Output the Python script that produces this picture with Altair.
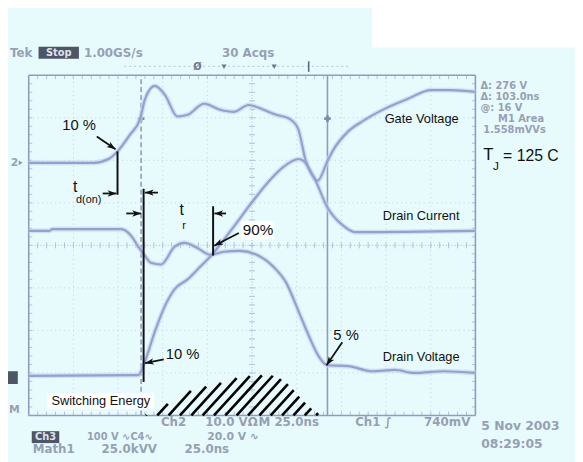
import math
import numpy as np
import pandas as pd
import altair as alt

# ---------------- values ----------------
# time in ns (25 ns / div, 10 div), level in divisions (8 div)
top_t = [0, 36.4, 44.7, 49.7, 56.8, 62.4, 65.1, 70.6, 76.2, 83.3, 88.9, 98.2, 107.1,
         114.8, 123.1, 131.4, 138.5, 145.7, 150.7, 155.1, 160.6, 167.2, 175.5, 182.7, 250]
top_v = [5.94, 5.94, 6.03, 6.21, 6.61, 6.98, 7.44, 7.75, 7.54, 7.03, 7.07, 7.33, 7.19,
         7.14, 7.30, 7.19, 7.07, 6.98, 6.75, 5.98, 5.52, 4.89, 4.48, 4.31, 4.34]

drain_t = [0, 11.6, 13.2, 51.9, 57.4, 61.3, 64.6, 68.4, 74.0, 81.7, 87.2, 94.4, 101.5,
           109.3, 118.1, 127.5, 136.9, 144.0, 151.2, 156.7, 162.3, 167.2, 178.8, 192.1,
           204.8, 215.8, 232.3, 250]
drain_v = [4.34, 4.34, 4.38, 4.38, 4.22, 3.97, 3.78, 3.59, 3.55, 3.97, 4.06, 3.94, 3.78,
           3.85, 3.87, 3.78, 3.50, 3.13, 2.43, 1.88, 1.39, 1.18, 1.16, 1.04,
           1.07, 1.00, 1.04, 1.00]

gate_t = [0, 61.3, 65.1, 70.6, 76.2, 81.7, 88.9, 96.0, 101.5, 113.7, 125.8, 134.7, 142.4,
          151.2, 154.0, 161.7, 167.2, 170.0, 178.8, 186.5, 199.2, 211.9, 225.2, 236.2, 250]
gate_v = [0.93, 0.95, 1.28, 1.97, 2.57, 2.97, 3.20, 3.50, 3.73, 4.38, 5.06, 5.52, 5.84,
          6.03, 5.98, 5.52, 5.98, 6.21, 6.68, 6.91, 7.21, 7.44, 7.65, 7.65, 7.61]

energy_t = [65.1, 75.1, 85.0, 94.4, 103.8, 116.5, 127.5, 138.5, 145.7, 153.4, 160.6, 166.1]
energy_v = [0, 0.19, 0.49, 0.63, 0.72, 0.88, 0.95, 0.93, 0.72, 0.35, 0.07, 0]

# cursors (ns)
cursor_dashed = 62.9
cursor_solid = 167.2
cursor_mark_level = 6.98

# black marker lines: x, top, bottom
mark_x = [49.7, 64.3, 103.2]
mark_top = [6.21, 5.33, 4.92]
mark_bot = [5.19, 0.79, 3.76]

# arrows: tail (x, y) -> head (x2, y2)
arrow_x = [38.1, 41.4, 72.3, 54.6, 110.4, 117.6, 75.6, 175.5]
arrow_y = [6.56, 5.22, 5.24, 4.75, 4.75, 4.29, 1.32, 1.72]
arrow_x2 = [48.6, 49.1, 65.0, 62.9, 103.9, 103.8, 65.1, 166.7]
arrow_y2 = [6.26, 5.22, 5.24, 4.75, 4.75, 3.99, 1.23, 1.18]

# annotation texts
ann_label = ["10 %", "t", "d(on)", "t", "r", "90%", "10 %", "5 %", "Gate Voltage",
             "Drain Current", "Drain Voltage", "Switching Energy", "T", "J", "= 125 C"]
ann_x = [18.8, 24.8, 26.5, 84.4, 86.0, 119.8, 76.7, 170.5, 199.2,
         198.1, 198.1, 12.7, 254.4, 259.8, 265.5]
ann_y = [6.84, 5.38, 5.06, 4.82, 4.46, 4.36, 1.44, 1.88, 6.98,
         4.68, 1.37, 0.35, 6.12, 5.86, 6.10]
ann_fs = [15, 16, 11, 16, 11, 15.5, 15, 15, 13, 13, 13, 13, 17, 12, 16]

# white label boxes (x, x2, y, y2)
box_x = [118.7, 10.5]
box_x2 = [137.4, 70.1]
box_y = [4.57, 0.53]
box_y2 = [4.13, 0.16]

# oscilloscope read-outs
scope_label = ["Tek", "1.00GS/s", "30 Acqs",
               "Δ: 276 V", "Δ: 103.0ns", "@: 16 V", "M1 Area", "1.558mVVs",
               "Ch2", "10.0 VΩ", "M 25.0ns", "Ch1 ∫", "740mV",
               "100 V ∿", "C4∿", "20.0 V ∿",
               "Math1", "25.0kVV", "25.0ns",
               "5 Nov 2003", "08:29:05", "2", "M"]
scope_x = [-10.5, 30.9, 108.2,
           252.8, 252.8, 252.8, 262.7, 254.4,
           74.0, 98.8, 128.6, 182.7, 221.3,
           32.6, 56.9, 99.9,
           2.2, 40.8, 87.2,
           253.3, 253.3, -10.0, -11.0]
scope_y = [8.53, 8.53, 8.53,
           7.75, 7.48, 7.22, 6.97, 6.71,
           -0.16, -0.16, -0.16, -0.16, -0.16,
           -0.51, -0.51, -0.51,
           -0.79, -0.79, -0.79,
           -0.26, -0.67, 5.94, 0.12]
scope_fs = [12, 12, 12,
            10, 10, 10, 10, 10,
            12, 12, 12, 12, 12,
            10, 10, 11,
            12, 12, 12,
            12.5, 12.5, 11, 11]

inv_label = ["Stop", "Ch3"]
inv_x = [5.5, 1.7]
inv_x2 = [28.1, 17.1]
inv_y = [8.67, -0.37]
inv_y2 = [8.39, -0.65]

# ---------------- layout / style ----------------
W, H = 453, 345
X_MAX, Y_MAX = 250, 8
PX_X, PX_Y = W / X_MAX, H / Y_MAX

BG = "#e7fbfc"
TRACE = "#93a1d0"
HALO = "#c9d3ee"
GRID = "#c3cce3"
FRAME = "#8f9cc0"
SCOPE = "#979fb5"
INK = "#111111"

xs = alt.Scale(domain=[0, X_MAX], nice=False, zero=False)
ys = alt.Scale(domain=[0, Y_MAX], nice=False, zero=False)


def X(f="x"):
    return alt.X(f"{f}:Q", scale=xs, axis=None)


def Y(f="y"):
    return alt.Y(f"{f}:Q", scale=ys, axis=None)


def rules(df, color, width, dash=None, opacity=1.0, cap="butt"):
    kw = dict(color=color, strokeWidth=width, opacity=opacity, strokeCap=cap)
    if dash:
        kw["strokeDash"] = dash
    return alt.Chart(df).mark_rule(**kw).encode(x=X(), x2="x2:Q", y=Y(), y2="y2:Q")


def rects(df, color):
    return alt.Chart(df).mark_rect(color=color, opacity=1).encode(
        x=X(), x2="x2:Q", y=Y(), y2="y2:Q")


def texts(df, font, color, bold=False, align="left"):
    return alt.Chart(df).mark_text(
        align=align, baseline="middle", font=font, color=color,
        fontWeight="bold" if bold else "normal"
    ).encode(x=X(), y=Y(), text="label:N",
             size=alt.Size("fs:Q", scale=None, legend=None))


layers = []

# white patch at top right of the screenshot
layers.append(rects(pd.DataFrame({"x": [192.1], "x2": [330.0], "y": [8.65], "y2": [10.5]}), "#ffffff"))

# graticule
gx = [25, 50, 75, 100, 150, 175, 200, 225]
gy = [1, 2, 3, 5, 6, 7]
grid_df = pd.DataFrame(
    [dict(x=v, x2=v, y=0, y2=Y_MAX) for v in gx] +
    [dict(x=0, x2=X_MAX, y=v, y2=v) for v in gy])
layers.append(rules(grid_df, GRID, 1, dash=[1, 3.5]))

center_df = pd.DataFrame([dict(x=125, x2=125, y=0, y2=Y_MAX), dict(x=0, x2=X_MAX, y=4, y2=4)])
layers.append(rules(center_df, "#aeb9d6", 1, dash=[1, 2]))

tick_rows = []
for t in np.arange(5, X_MAX, 5):
    tick_rows.append(dict(x=t, x2=t, y=4 - 0.07, y2=4 + 0.07))
    tick_rows.append(dict(x=t, x2=t, y=Y_MAX, y2=Y_MAX - 0.09))
    tick_rows.append(dict(x=t, x2=t, y=0, y2=0.09))
for v in np.arange(0.2, Y_MAX, 0.2):
    tick_rows.append(dict(x=125 - 1.66, x2=125 + 1.66, y=v, y2=v))
    tick_rows.append(dict(x=0, x2=2.0, y=v, y2=v))
    tick_rows.append(dict(x=X_MAX, x2=X_MAX - 2.0, y=v, y2=v))
layers.append(rules(pd.DataFrame(tick_rows), "#b4bfdb", 1))

frame_df = pd.DataFrame([
    dict(x=0, x2=X_MAX, y=0, y2=0), dict(x=0, x2=X_MAX, y=Y_MAX, y2=Y_MAX),
    dict(x=0, x2=0, y=0, y2=Y_MAX), dict(x=X_MAX, x2=X_MAX, y=0, y2=Y_MAX)])
layers.append(rules(frame_df, FRAME, 1.6))

# cursors
layers.append(rules(pd.DataFrame([dict(x=cursor_dashed, x2=cursor_dashed, y=0, y2=Y_MAX)]),
                    FRAME, 1.6, dash=[5, 3]))
layers.append(rules(pd.DataFrame([dict(x=cursor_solid, x2=cursor_solid, y=0, y2=Y_MAX)]),
                    FRAME, 1.6))
layers.append(alt.Chart(pd.DataFrame({"x": [cursor_dashed, cursor_solid],
                                      "y": [cursor_mark_level] * 2})).mark_point(
    shape="cross", filled=True, size=45, color="#7f8cb0", opacity=1).encode(x=X(), y=Y()))

# record bar / trigger markers at top
layers.append(rules(pd.DataFrame([dict(x=53.5, x2=178.8, y=8.21, y2=8.21)]), "#c3cbe0", 1.2, dash=[2, 3]))
layers.append(alt.Chart(pd.DataFrame({"x": [109.3, 137.4], "y": [8.2, 8.2]})).mark_point(
    shape="triangle-down", filled=True, size=28, color="#6f7993", opacity=1).encode(x=X(), y=Y()))
layers.append(texts(pd.DataFrame({"label": ["Ø"], "x": [94.4], "y": [8.19], "fs": [10]}),
                    "DejaVu Sans", "#6f7993", bold=True, align="center"))
layers.append(rules(pd.DataFrame([dict(x=156.7, x2=156.7, y=8.08, y2=8.33)]), "#5f6984", 1.6))

# left channel markers
layers.append(alt.Chart(pd.DataFrame({"x": [-4.5], "y": [5.94]})).mark_point(
    shape="triangle-right", filled=True, size=22, color="#8f97ad", opacity=1).encode(x=X(), y=Y()))
layers.append(rects(pd.DataFrame({"x": [-11.6], "x2": [-6.1], "y": [1.04], "y2": [0.74]}), "#4d5566"))

# hatched switching-energy region (lines cut at the energy curve)
hatch_gap = 6.35
slope_px = 1.1
k = slope_px * PX_X / PX_Y
seg = []
u = np.linspace(0.02, 40, 8000)
for x0 in np.arange(energy_t[0] + 0.5, energy_t[-1], hatch_gap):
    yl = u * k
    yc = np.interp(x0 + u, energy_t, energy_v)
    hit = np.nonzero(yl >= yc)[0]
    if len(hit) == 0:
        continue
    u1 = u[hit[0]]
    seg.append(dict(x=x0, x2=x0 + u1, y=0, y2=u1 * k))
layers.append(rules(pd.DataFrame(seg), "#000000", 2.6))

# traces
rows = []
for name, tt, vv in [("top", top_t, top_v), ("drain", drain_t, drain_v), ("gate", gate_t, gate_v)]:
    for i, (a, b) in enumerate(zip(tt, vv)):
        rows.append(dict(trace=name, i=i, x=a, y=b))
tr = pd.DataFrame(rows)
layers.append(alt.Chart(tr).mark_line(interpolate="monotone", color=HALO, strokeWidth=5, opacity=0.7).encode(
    x=X(), y=Y(), detail="trace:N", order="i:Q"))
layers.append(alt.Chart(tr).mark_line(interpolate="monotone", color=TRACE, strokeWidth=2.2).encode(
    x=X(), y=Y(), detail="trace:N", order="i:Q"))

# black marker lines
mk = pd.DataFrame({"x": mark_x, "x2": mark_x, "y": mark_top, "y2": mark_bot})
layers.append(rules(mk, INK, 2))

# arrows
ar = pd.DataFrame({"x": arrow_x, "y": arrow_y, "x2": arrow_x2, "y2": arrow_y2})
ar["angle"] = [
    (math.degrees(math.atan2((b - a) * PX_X, (d - c) * PX_Y)) + 360) % 360
    for a, b, c, d in zip(ar.x, ar.x2, ar.y, ar.y2)
]
layers.append(rules(ar, INK, 1.8))
heads = pd.DataFrame({"x": ar.x2, "y": ar.y2, "angle": ar.angle})
layers.append(alt.Chart(heads).mark_point(
    shape="M0,0L0.42,1.15L0,0.85L-0.42,1.15Z", filled=True, size=240, color=INK,
    opacity=1, strokeWidth=0).encode(x=X(), y=Y(), angle=alt.Angle("angle:Q", scale=None)))

# white label boxes and annotation text
layers.append(rects(pd.DataFrame({"x": box_x, "x2": box_x2, "y": box_y, "y2": box_y2}), "#ffffff"))
ann = pd.DataFrame({"label": ann_label, "x": ann_x, "y": ann_y, "fs": ann_fs})
layers.append(texts(ann, "Liberation Sans", INK))

# scope read-outs
layers.append(rects(pd.DataFrame({"x": inv_x, "x2": inv_x2, "y": inv_y, "y2": inv_y2}), "#4d5566"))
inv = pd.DataFrame({"label": inv_label,
                    "x": [(a + b) / 2 for a, b in zip(inv_x, inv_x2)],
                    "y": [(a + b) / 2 for a, b in zip(inv_y, inv_y2)],
                    "fs": [10, 10]})
layers.append(texts(inv, "DejaVu Sans", "#dfe3ea", bold=True, align="center"))
sc = pd.DataFrame({"label": scope_label, "x": scope_x, "y": scope_y, "fs": scope_fs})
layers.append(texts(sc, "DejaVu Sans", SCOPE, bold=True))

chart = alt.layer(*layers).properties(
    width=W, height=H,
    padding={"left": 21, "top": 65, "right": 101, "bottom": 44},
    autosize=alt.AutoSizeParams(type="none"),
    background=BG,
).configure_view(stroke=None)

chart.save("out.html", embed_options={"renderer": "svg", "actions": False})
